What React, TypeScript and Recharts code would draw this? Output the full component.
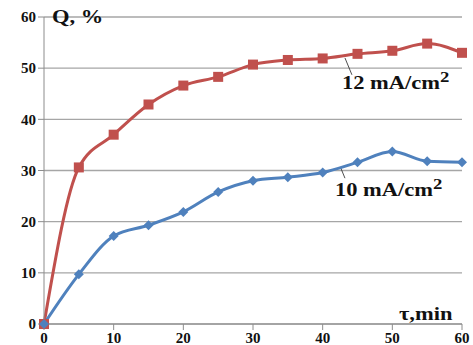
import { LineChart, Line, XAxis, YAxis, CartesianGrid, ReferenceLine } from 'recharts';

// time, min
const times = [0, 5, 10, 15, 20, 25, 30, 35, 40, 45, 50, 55, 60];
// Q, % at 12 mA/cm2
const q12 = [0, 30.6, 37, 42.9, 46.6, 48.3, 50.7, 51.6, 51.9, 52.8, 53.4, 54.8, 53];
// Q, % at 10 mA/cm2
const q10 = [0, 9.7, 17.2, 19.3, 21.9, 25.8, 28, 28.7, 29.6, 31.6, 33.7, 31.8, 31.6];
const xTicks = [0, 10, 20, 30, 40, 50, 60];
const yTicks = [0, 10, 20, 30, 40, 50, 60];

const data = times.map((t, i) => ({ t, q12: q12[i], q10: q10[i] }));

const RED = '#C0504D';
const BLUE = '#4F81BD';
const FONT = "'Times New Roman', Times, 'Liberation Serif', serif";

const SquareDot = (props: any) => {
  const { cx, cy } = props;
  if (cx == null || cy == null) return null;
  return <rect x={cx - 5} y={cy - 5} width={10} height={10} fill={RED} />;
};

const DiamondDot = (props: any) => {
  const { cx, cy } = props;
  if (cx == null || cy == null) return null;
  return <path d={`M${cx},${cy - 5}L${cx + 5},${cy}L${cx},${cy + 5}L${cx - 5},${cy}Z`} fill={BLUE} />;
};

const tickStyle = { fontSize: 15, fontWeight: 'bold', fill: '#111', style: { fontFamily: FONT } };

// the source image is a little stretched sideways
const Note = ({ x, y, children }: any) => (
  <text transform={`translate(${x},${y}) scale(1.25,1)`} fontSize={18}>
    {children}
  </text>
);

export default function App() {
  return (
    <div style={{ position: 'absolute', left: 0, top: 0, width: 473, height: 345, background: '#fff' }}>
      <LineChart width={473} height={345} data={data} margin={{ top: 17, right: 11, bottom: 0, left: 0 }} style={{ fontFamily: FONT }}>
        <CartesianGrid vertical={false} stroke="#A6A6A6" strokeWidth={1.3} />
        <XAxis
          dataKey="t"
          type="number"
          domain={[0, 60]}
          ticks={xTicks}
          height={21}
          tickSize={6}
          stroke="#8C8C8C"
          tick={tickStyle}
          interval={0}
        />
        <YAxis
          type="number"
          domain={[0, 60]}
          ticks={yTicks}
          width={44}
          tickSize={6}
          stroke="#8C8C8C"
          tick={tickStyle}
          interval={0}
        />
        <ReferenceLine segment={[{ x: 43.2, y: 52.0 }, { x: 44.2, y: 48.7 }]} stroke="#222" strokeWidth={0.8} />
        <ReferenceLine segment={[{ x: 42.6, y: 30.5 }, { x: 43.2, y: 28.5 }]} stroke="#222" strokeWidth={0.8} />
        <Line
          type="monotone"
          dataKey="q12"
          stroke={RED}
          strokeWidth={3}
          dot={<SquareDot />}
          activeDot={false}
          isAnimationActive={false}
        />
        <Line
          type="monotone"
          dataKey="q10"
          stroke={BLUE}
          strokeWidth={3}
          dot={<DiamondDot />}
          activeDot={false}
          isAnimationActive={false}
        />
      </LineChart>
      <svg width={473} height={345} style={{ position: 'absolute', left: 0, top: 0, pointerEvents: 'none', fontFamily: FONT }}>
        <g fontWeight="bold" fill="#111">
          <Note x={52} y={23}>Q, %</Note>
          <Note x={399} y={320}>τ,min</Note>
          <Note x={342} y={89}>
            12 mA/cm<tspan dy={-7} fontSize={15}>2</tspan>
          </Note>
          <Note x={335} y={196}>
            10 mA/cm<tspan dy={-7} fontSize={15}>2</tspan>
          </Note>
        </g>
      </svg>
    </div>
  );
}
